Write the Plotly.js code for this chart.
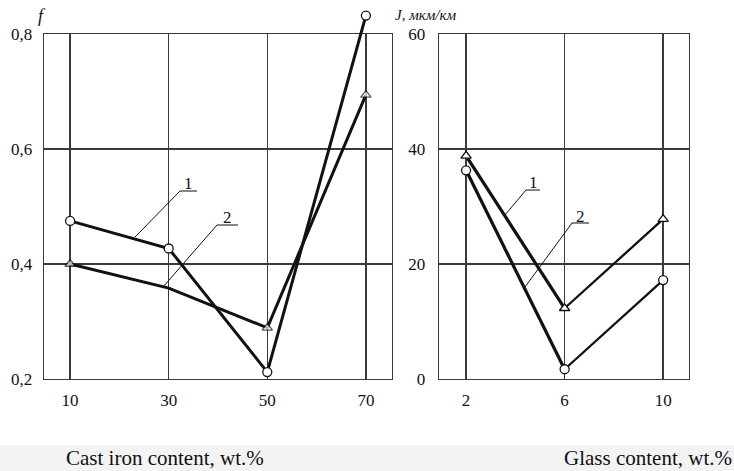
<!DOCTYPE html>
<html>
<head>
<meta charset="utf-8">
<script src="https://cdn.plot.ly/plotly-3.0.1.min.js"></script>
<style>html,body{margin:0;padding:0;background:#fff;}#chart{width:734px;height:471px;}</style>
</head>
<body>
<div id="chart"></div>
<script>
// ---- data ----
const castIron = [10, 30, 50, 70];
const f_curve1 = [0.475, 0.427, 0.212, 0.832];
const f_curve2 = [0.400, 0.358, 0.289, 0.694];
const f_curve2_markers = [true, false, true, true];

const glass = [2, 6, 10];
const J_curve1 = [38.8, 12.3, 27.8];
const J_curve2 = [36.3, 1.7, 17.2];

const fTicks = [0.2, 0.4, 0.6, 0.8];
const fTickText = ["0,2", "0,4", "0,6", "0,8"];
const JTicks = [0, 20, 40, 60];
const JTickText = ["0", "20", "40", "60"];

// ---- helpers ----
const W = 734, H = 471;
const px = v => v / W;
const py = v => 1 - v / H;
const serif = "'Liberation Serif', 'Times New Roman', serif";
const ink = "#111";
const gridC = "#3a3a3a";

const lineW = 3;
const mSize = 9;

function lineTrace(x, y, xa, ya, w) {
  return {x: x, y: y, xaxis: xa, yaxis: ya, type: "scatter", mode: "lines",
    hoverinfo: "skip", line: {color: ink, width: w}};
}
function markerTrace(x, y, sym, xa, ya, sizes) {
  return {x: x, y: y, xaxis: xa, yaxis: ya, type: "scatter", mode: "markers",
    cliponaxis: false, hoverinfo: "skip",
    marker: {symbol: sym, size: sizes || mSize, color: "#fff", line: {color: ink, width: 1.3}}};
}

const data = [
  // empty trace so the framed left subplot (x / y) is drawn
  {x: [], y: [], xaxis: "x", yaxis: "y", type: "scatter", mode: "lines", hoverinfo: "skip"},
  lineTrace(castIron, f_curve2, "x3", "y3", lineW),
  lineTrace(castIron, f_curve1, "x3", "y3", lineW),
  lineTrace(glass.slice(0, 2), J_curve1.slice(0, 2), "x2", "y2", 3.2),
  lineTrace(glass.slice(1), J_curve1.slice(1), "x2", "y2", 2.3),
  lineTrace(glass.slice(0, 2), J_curve2.slice(0, 2), "x2", "y2", 3.2),
  lineTrace(glass.slice(1), J_curve2.slice(1), "x2", "y2", 2.3),
  markerTrace(castIron, f_curve2, "triangle-up", "x3", "y3", f_curve2_markers.map(m => m ? mSize : 0)),
  markerTrace(castIron, f_curve1, "circle", "x3", "y3"),
  markerTrace(glass, J_curve1, "triangle-up", "x2", "y2"),
  markerTrace(glass, J_curve2, "circle", "x2", "y2")
];

const axisCommon = {
  showline: true, mirror: true, linecolor: gridC, linewidth: 1.4,
  showgrid: true, gridcolor: gridC, gridwidth: 1.3,
  zeroline: false, ticks: "", fixedrange: true,
  tickfont: {family: serif, size: 17, color: ink}
};
const hiddenAxis = {
  visible: false, showline: false, showgrid: false, zeroline: false, fixedrange: true
};

const yTop = 34, yBot = 379, yTopExt = 8;
const fMin = 0.2, fMax = 0.8;
const fPerPx = (fMax - fMin) / (yBot - yTop);

const annFont = {family: serif, size: 17, color: ink};
function ann(text, x, y, extra) {
  return Object.assign({text: text, xref: "paper", yref: "paper", x: px(x), y: py(y),
    xanchor: "center", yanchor: "middle", showarrow: false, font: annFont}, extra || {});
}
function seg(x0, y0, x1, y1) {
  return {type: "line", xref: "paper", yref: "paper", x0: px(x0), y0: py(y0), x1: px(x1), y1: py(y1),
    line: {color: ink, width: 1}};
}

const layout = {
  width: W, height: H,
  margin: {l: 0, r: 0, t: 0, b: 0},
  paper_bgcolor: "#fff", plot_bgcolor: "rgba(0,0,0,0)",
  showlegend: false,
  xaxis: Object.assign({}, axisCommon, {
    domain: [px(44), px(392)], range: [4.7, 75.3], anchor: "y",
    tickvals: castIron, ticktext: castIron.map(String), ticklabelstandoff: 5
  }),
  yaxis: Object.assign({}, axisCommon, {
    domain: [py(yBot), py(yTop)], range: [fMin, fMax], anchor: "x",
    tickvals: fTicks, ticktext: fTickText, ticklabelstandoff: 7
  }),
  // overlay subplot for the left curves (taller, so the point above 0,8 stays visible)
  xaxis3: Object.assign({}, hiddenAxis, {domain: [px(44), px(392)], range: [4.7, 75.3], anchor: "y3"}),
  yaxis3: Object.assign({}, hiddenAxis, {
    domain: [py(yBot), py(yTopExt)], range: [fMin, fMax + (yTop - yTopExt) * fPerPx], anchor: "x3"
  }),
  xaxis2: Object.assign({}, axisCommon, {
    domain: [px(439), px(689)], range: [0.9, 11.05], anchor: "y2",
    tickvals: glass, ticktext: glass.map(String), ticklabelstandoff: 5
  }),
  yaxis2: Object.assign({}, axisCommon, {
    domain: [py(yBot), py(yTop)], range: [0, 60], anchor: "x2",
    tickvals: JTicks, ticktext: JTickText, ticklabelstandoff: 9
  }),
  shapes: [
    {type: "rect", xref: "paper", yref: "paper", x0: 0, x1: 1, y0: 0, y1: py(445),
     fillcolor: "#f3f3f3", line: {width: 0}, layer: "below"},
    seg(135, 237, 180, 191), seg(180, 191, 197, 191),
    seg(163, 287, 217, 225), seg(217, 225, 238, 225),
    seg(505, 215, 526, 190), seg(526, 190, 540, 190),
    seg(525, 287, 572, 223), seg(572, 223, 589, 223)
  ],
  annotations: [
    ann("<i>f</i>", 42, 16, {font: {family: serif, size: 18, color: ink}}),
    ann("<i>J, мкм/км</i>", 426, 15, {font: {family: serif, size: 15, color: ink}}),
    ann("1", 188, 183), ann("2", 227, 217),
    ann("1", 533, 182), ann("2", 580, 216),
    ann("Cast iron content, wt.%", 64, 458, {xanchor: "left", font: {family: serif, size: 21, color: ink}}),
    ann("Glass content, wt.%", 734, 458, {xanchor: "right", font: {family: serif, size: 21, color: ink}})
  ]
};

Plotly.newPlot("chart", data, layout, {staticPlot: true, displayModeBar: false});
</script>
</body>
</html>
